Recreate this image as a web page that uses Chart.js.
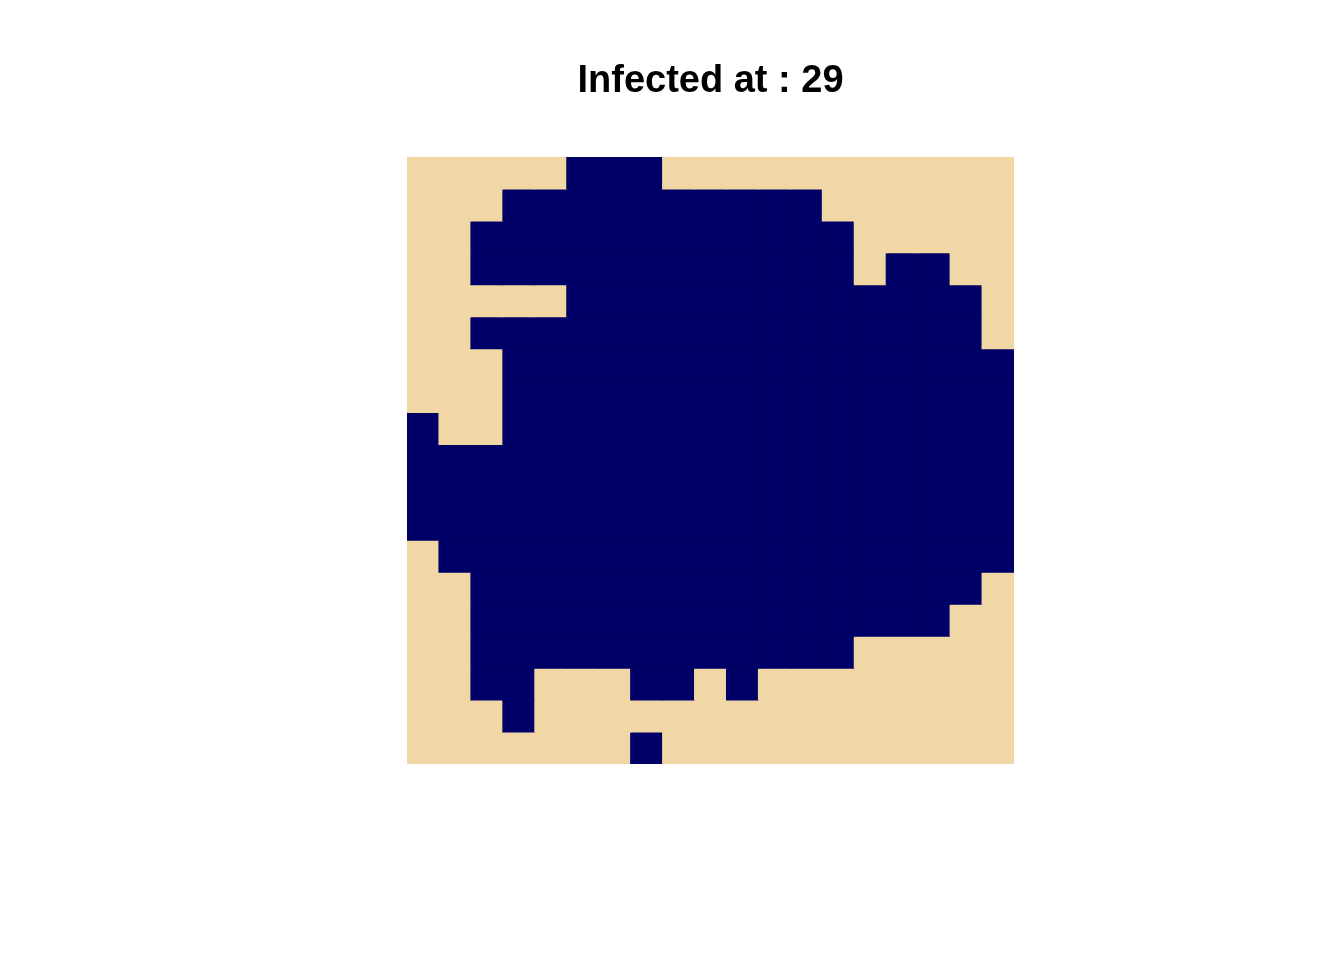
<!DOCTYPE html>
<html>
<head>
<meta charset="utf-8">
<script src="https://cdn.jsdelivr.net/npm/chart.js@4"></script>
<style>
html,body{margin:0;padding:0;background:#fff;}
canvas{display:block;}
</style>
</head>
<body>
<canvas id="c" width="1344" height="960"></canvas>
<script>
const titleText = "Infected at : 29";
const columns = [0,1,2,3,4,5,6,7,8,9,10,11,12,13,14,15,16,17,18];
// 1 = infected, 0 = susceptible; row 0 is the top row
const grid = [
  [0,0,0,0,0,1,1,1,0,0,0,0,0,0,0,0,0,0,0],
  [0,0,0,1,1,1,1,1,1,1,1,1,1,0,0,0,0,0,0],
  [0,0,1,1,1,1,1,1,1,1,1,1,1,1,0,0,0,0,0],
  [0,0,1,1,1,1,1,1,1,1,1,1,1,1,0,1,1,0,0],
  [0,0,0,0,0,1,1,1,1,1,1,1,1,1,1,1,1,1,0],
  [0,0,1,1,1,1,1,1,1,1,1,1,1,1,1,1,1,1,0],
  [0,0,0,1,1,1,1,1,1,1,1,1,1,1,1,1,1,1,1],
  [0,0,0,1,1,1,1,1,1,1,1,1,1,1,1,1,1,1,1],
  [1,0,0,1,1,1,1,1,1,1,1,1,1,1,1,1,1,1,1],
  [1,1,1,1,1,1,1,1,1,1,1,1,1,1,1,1,1,1,1],
  [1,1,1,1,1,1,1,1,1,1,1,1,1,1,1,1,1,1,1],
  [1,1,1,1,1,1,1,1,1,1,1,1,1,1,1,1,1,1,1],
  [0,1,1,1,1,1,1,1,1,1,1,1,1,1,1,1,1,1,1],
  [0,0,1,1,1,1,1,1,1,1,1,1,1,1,1,1,1,1,0],
  [0,0,1,1,1,1,1,1,1,1,1,1,1,1,1,1,1,0,0],
  [0,0,1,1,1,1,1,1,1,1,1,1,1,1,0,0,0,0,0],
  [0,0,1,1,0,0,0,1,1,0,1,0,0,0,0,0,0,0,0],
  [0,0,0,1,0,0,0,0,0,0,0,0,0,0,0,0,0,0,0],
  [0,0,0,0,0,0,0,1,0,0,0,0,0,0,0,0,0,0,0]
];
const stateColors = ["#F2D7A6", "#000066"];

const datasets = grid.map((row, r) => ({
  label: "row " + r,
  data: columns.map(() => [r, r + 1]),
  backgroundColor: row.map(v => stateColors[v]),
  borderColor: row.map(v => stateColors[v]),
  borderWidth: 0,
  borderSkipped: false,
  inflateAmount: 0.5,
  grouped: false,
  barPercentage: 1.0,
  categoryPercentage: 1.0
}));

new Chart(document.getElementById("c"), {
  type: "bar",
  data: { labels: columns.map(String), datasets },
  options: {
    responsive: false,
    animation: false,
    layout: { padding: { left: 407, right: 330, top: 0, bottom: 196 } },
    plugins: {
      legend: { display: false },
      tooltip: { enabled: false },
      title: {
        display: true,
        text: titleText,
        color: "#000",
        font: { family: "'Liberation Sans', Arial, sans-serif", size: 38, weight: "bold", lineHeight: 1 },
        padding: { top: 62.5, bottom: 56.5 }
      }
    },
    scales: {
      x: { display: false, offset: true, grid: { display: false } },
      y: { display: false, min: 0, max: 19, reverse: true, grid: { display: false } }
    }
  }
});
</script>
</body>
</html>
